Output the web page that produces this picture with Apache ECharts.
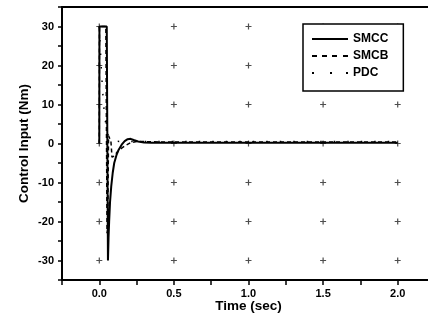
<!DOCTYPE html>
<html>
<head>
<meta charset="utf-8">
<script src="https://cdn.jsdelivr.net/npm/echarts@6/dist/echarts.min.js"></script>
<style>
  html, body { margin: 0; padding: 0; background: #fff; }
  #main { width: 428px; height: 323px; }
</style>
</head>
<body>
<div id="main"></div>
<script>
// values (time in sec, torque in Nm)
const smccTime = [0, 0.001, 0.05, 0.058, 0.062, 0.066, 0.072, 0.08, 0.09, 0.1, 0.115, 0.13, 0.15, 0.17, 0.19, 0.21, 0.23, 0.26, 0.3, 0.35, 0.5, 1.0, 1.5, 2.0];
const smccValue = [0, 30, 30, -30, -24, -20, -15, -11, -7.5, -5, -3, -1.6, -0.3, 0.6, 1.1, 1.2, 0.9, 0.5, 0.25, 0.2, 0.2, 0.2, 0.2, 0.2];

const smcbTime = [0, 0.001, 0.044, 0.052, 0.056, 0.062, 0.07, 0.078, 0.085, 0.1, 0.12, 0.15, 0.18, 0.21, 0.25, 0.3, 0.4, 1.0, 2.0];
const smcbValue = [0, 30, 30, -23, -22, 2, 1.8, 0.5, -3.5, -3.2, -2.2, -1.2, -0.4, 0.2, 0.5, 0.5, 0.4, 0.4, 0.4];

const pdcTime = [0, 0.005, 0.01, 0.015, 0.02, 0.025, 0.03, 0.035, 0.04, 0.05, 0.06, 0.08, 0.1, 0.15, 0.2, 0.3, 0.5, 1.0, 1.5, 2.0];
const pdcValue = [30, 26, 22, 18, 15, 12, 9.5, 7.5, 6, 3.5, 2, 1, 0.6, 0.5, 0.5, 0.5, 0.5, 0.5, 0.5, 0.5];

// grid crosses sit on the major ticks
const xMajorTicks = [0, 0.5, 1.0, 1.5, 2.0];
const yMajorTicks = [-30, -20, -10, 0, 10, 20, 30];

const zip = (xs, ys) => xs.map((x, i) => [x, ys[i]]);
const crosses = [];
xMajorTicks.forEach((x) => yMajorTicks.forEach((y) => crosses.push([x, y])));

const myChart = echarts.init(document.getElementById('main'), null, { renderer: 'canvas' });

const font = 'Liberation Sans';
const titleStyle = { fontFamily: font, fontSize: 13.5, fontWeight: 'bold', color: '#000' };
const tickStyle = { fontFamily: font, fontSize: 11, fontWeight: 'bold', color: '#000' };

// legend swatches drawn as flat paths so no marker circle shows up
const solidIcon = 'path://M0,0h36v2h-36z';
const dashIcon = 'path://M0,0h5v2h-5zM10,0h5v2h-5zM20,0h5v2h-5zM31,0h5v2h-5z';
const dotIcon = 'path://M0,0h2v2h-2zM18,0h2v2h-2zM34,0h2v2h-2z';

const option = {
  animation: false,
  backgroundColor: '#fff',
  grid: {
    left: 62,
    top: 7,
    bottom: 43,
    right: -7, // the scan cuts the frame off on the right
    outerBoundsMode: 'none',
  },
  legend: {
    orient: 'vertical',
    left: 303,
    top: 24,
    padding: [8, 15, 11, 9],
    itemWidth: 36,
    itemHeight: 2,
    itemGap: 3,
    borderColor: '#000',
    borderWidth: 1.5,
    backgroundColor: '#fff',
    data: [
      { name: 'SMCC', icon: solidIcon },
      { name: 'SMCB', icon: dashIcon },
      { name: 'PDC', icon: dotIcon },
    ],
    textStyle: { fontFamily: font, fontSize: 12, fontWeight: 'bold', color: '#000', lineHeight: 14 },
  },
  xAxis: [
    {
      type: 'value',
      min: -0.25,
      max: 2.25,
      interval: 0.25,
      name: 'Time (sec)',
      nameLocation: 'middle',
      nameGap: 19,
      nameMoveOverlap: false,
      nameTextStyle: titleStyle,
      axisLine: { onZero: false, lineStyle: { color: '#000', width: 2 } },
      axisTick: { length: 5, lineStyle: { color: '#000', width: 1.5 } },
      axisLabel: {
        margin: 8,
        ...tickStyle,
        formatter: (v) => (Math.abs(v * 2 - Math.round(v * 2)) < 1e-6 && v >= 0 && v <= 2 ? v.toFixed(1) : ''),
      },
      splitLine: { show: false },
    },
    {
      // top frame line only
      type: 'value',
      position: 'top',
      min: -0.25,
      max: 2.25,
      axisLine: { show: true, onZero: false, lineStyle: { color: '#000', width: 2 } },
      axisTick: { show: false },
      axisLabel: { show: false },
      splitLine: { show: false },
    },
  ],
  yAxis: {
    type: 'value',
    min: -35,
    max: 35,
    interval: 5,
    name: 'Control Input (Nm)',
    nameLocation: 'middle',
    nameGap: 31,
    nameMoveOverlap: false,
    nameTextStyle: titleStyle,
    axisLine: { show: true, onZero: false, lineStyle: { color: '#000', width: 2 } },
    axisTick: { length: 4, lineStyle: { color: '#000', width: 1.5 } },
    axisLabel: {
      margin: 8,
      ...tickStyle,
      formatter: (v) => (v % 10 === 0 && Math.abs(v) <= 30 ? String(v) : ''),
    },
    splitLine: { show: false },
  },
  series: [
    {
      name: 'grid',
      type: 'scatter',
      data: crosses,
      silent: true,
      symbol: 'path://M4,0h2v4h4v2h-4v4h-2v-4h-4v-2h4z',
      symbolSize: 6,
      itemStyle: { color: '#222' },
      z: 1,
    },
    {
      name: 'PDC',
      type: 'line',
      data: zip(pdcTime, pdcValue),
      symbol: 'none',
      lineStyle: { color: '#000', width: 1.5, type: [1.5, 12] },
      itemStyle: { color: '#000' },
      z: 2,
    },
    {
      name: 'SMCB',
      type: 'line',
      data: zip(smcbTime, smcbValue),
      symbol: 'none',
      lineStyle: { color: '#000', width: 1.5, type: [4, 3] },
      itemStyle: { color: '#000' },
      z: 3,
    },
    {
      name: 'SMCC',
      type: 'line',
      data: zip(smccTime, smccValue),
      symbol: 'none',
      lineStyle: { color: '#000', width: 2 },
      itemStyle: { color: '#000' },
      z: 4,
    },
  ],
};

myChart.setOption(option);
</script>
</body>
</html>
